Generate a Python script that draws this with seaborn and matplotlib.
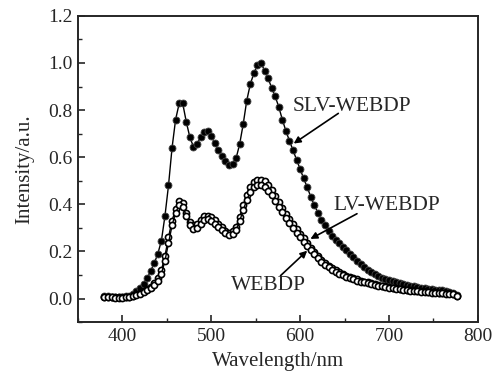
import numpy as np
import pandas as pd
import matplotlib
matplotlib.use("Agg")
import matplotlib.pyplot as plt
import seaborn as sns
from matplotlib.ticker import MultipleLocator

wavelength = list(range(380, 780, 4))

slv_webdp = [0.010, 0.010, 0.008, 0.008, 0.007, 0.007, 0.009, 0.012, 0.018, 0.030,
             0.045, 0.062, 0.085, 0.118, 0.150, 0.190, 0.245, 0.350, 0.480, 0.640,
             0.760, 0.828, 0.828, 0.750, 0.685, 0.645, 0.655, 0.685, 0.708, 0.710,
             0.690, 0.660, 0.630, 0.605, 0.585, 0.566, 0.570, 0.595, 0.655, 0.740,
             0.840, 0.910, 0.956, 0.990, 1.000, 0.968, 0.935, 0.895, 0.858, 0.814,
             0.760, 0.712, 0.670, 0.630, 0.590, 0.550, 0.510, 0.473, 0.432, 0.396,
             0.365, 0.335, 0.310, 0.286, 0.266, 0.250, 0.236, 0.220, 0.205, 0.190,
             0.175, 0.160, 0.147, 0.135, 0.122, 0.112, 0.103, 0.095, 0.088, 0.082,
             0.077, 0.073, 0.068, 0.064, 0.060, 0.057, 0.054, 0.051, 0.048, 0.046,
             0.044, 0.042, 0.040, 0.038, 0.037, 0.035, 0.032, 0.028, 0.022, 0.015]

lv_webdp = [0.008, 0.008, 0.006, 0.005, 0.005, 0.005, 0.006, 0.008, 0.012, 0.018,
            0.025, 0.032, 0.040, 0.050, 0.065, 0.085, 0.120, 0.180, 0.260, 0.330,
            0.380, 0.412, 0.405, 0.365, 0.325, 0.310, 0.315, 0.335, 0.350, 0.352,
            0.345, 0.332, 0.318, 0.302, 0.288, 0.280, 0.285, 0.305, 0.345, 0.395,
            0.440, 0.475, 0.495, 0.505, 0.505, 0.497, 0.480, 0.460, 0.435, 0.410,
            0.385, 0.360, 0.338, 0.315, 0.295, 0.275, 0.255, 0.235, 0.215, 0.197,
            0.180, 0.165, 0.152, 0.140, 0.130, 0.120, 0.112, 0.104, 0.097, 0.091,
            0.086, 0.081, 0.076, 0.072, 0.068, 0.064, 0.060, 0.057, 0.054, 0.051,
            0.048, 0.046, 0.044, 0.042, 0.040, 0.038, 0.036, 0.034, 0.033, 0.032,
            0.030, 0.029, 0.027, 0.026, 0.025, 0.024, 0.023, 0.022, 0.020, 0.012]

webdp = [0.006, 0.006, 0.005, 0.004, 0.004, 0.004, 0.005, 0.007, 0.010, 0.015,
         0.021, 0.028, 0.035, 0.045, 0.058, 0.075, 0.105, 0.160, 0.235, 0.310,
         0.365, 0.395, 0.390, 0.352, 0.313, 0.297, 0.301, 0.318, 0.333, 0.336,
         0.330, 0.318, 0.304, 0.289, 0.276, 0.268, 0.272, 0.290, 0.328, 0.375,
         0.418, 0.452, 0.472, 0.481, 0.481, 0.474, 0.458, 0.438, 0.415, 0.390,
         0.366, 0.343, 0.321, 0.300, 0.280, 0.260, 0.241, 0.222, 0.204, 0.187,
         0.171, 0.157, 0.144, 0.133, 0.123, 0.114, 0.106, 0.099, 0.092, 0.086,
         0.081, 0.076, 0.072, 0.068, 0.064, 0.060, 0.057, 0.054, 0.051, 0.048,
         0.045, 0.043, 0.041, 0.039, 0.037, 0.035, 0.033, 0.032, 0.030, 0.029,
         0.028, 0.026, 0.025, 0.024, 0.023, 0.022, 0.021, 0.020, 0.018, 0.010]

x_ticks = [400, 500, 600, 700, 800]
y_ticks = [0.0, 0.2, 0.4, 0.6, 0.8, 1.0, 1.2]

sns.set_style("ticks")
plt.rcParams['font.family'] = ['Liberation Serif', 'DejaVu Serif']
plt.rcParams['mathtext.fontset'] = 'stix'

fig = plt.figure(figsize=(5.02, 3.78), dpi=100)
ax = fig.add_axes([0.155, 0.148, 0.797, 0.810])

df = pd.DataFrame({"wl": wavelength, "slv": slv_webdp, "lv": lv_webdp, "web": webdp})

sns.lineplot(data=df, x="wl", y="slv", ax=ax, color="black", lw=1.0,
             marker="o", markersize=5.0, markerfacecolor="black",
             markeredgecolor="#444444", markeredgewidth=0.6, zorder=3)
sns.lineplot(data=df, x="wl", y="lv", ax=ax, color="black", lw=1.0,
             marker="o", markersize=4.4, markerfacecolor="white",
             markeredgecolor="black", markeredgewidth=1.2, zorder=4)
sns.lineplot(data=df, x="wl", y="web", ax=ax, color="black", lw=1.0,
             marker="o", markersize=4.4, markerfacecolor="white",
             markeredgecolor="black", markeredgewidth=1.2, zorder=5)

ax.set_xlim(350, 800)
ax.set_ylim(-0.1, 1.2)
ax.set_xticks(x_ticks)
ax.set_yticks(y_ticks)
ax.set_yticklabels([f"{v:.1f}" for v in y_ticks])
ax.xaxis.set_minor_locator(MultipleLocator(50))
ax.yaxis.set_minor_locator(MultipleLocator(0.1))
ax.tick_params(axis="both", which="major", direction="in", length=5, width=1.2,
               labelsize=14, top=False, right=False, pad=4)
ax.tick_params(axis="both", which="minor", direction="in", length=3, width=1.0,
               top=False, right=False)
for s in ax.spines.values():
    s.set_linewidth(1.4)
    s.set_visible(True)

ax.set_xlabel("Wavelength/nm", fontsize=15, labelpad=5)
ax.set_ylabel("Intensity/a.u.", fontsize=15, labelpad=10)

arrow = dict(arrowstyle="-|>", color="black", lw=1.2, mutation_scale=10, shrinkA=0, shrinkB=0)
ax.annotate("", xy=(592.8, 0.658), xytext=(643, 0.786), arrowprops=arrow)
ax.text(658, 0.814, "SLV-WEBDP", fontsize=15.5, ha="center", va="center")
ax.annotate("", xy=(611.6, 0.253), xytext=(664, 0.36), arrowprops=arrow)
ax.text(697, 0.395, "LV-WEBDP", fontsize=15.5, ha="center", va="center")
ax.annotate("", xy=(608, 0.203), xytext=(578, 0.097), arrowprops=arrow)
ax.text(564, 0.055, "WEBDP", fontsize=15.5, ha="center", va="center")

fig.savefig("out.png", dpi=100)
